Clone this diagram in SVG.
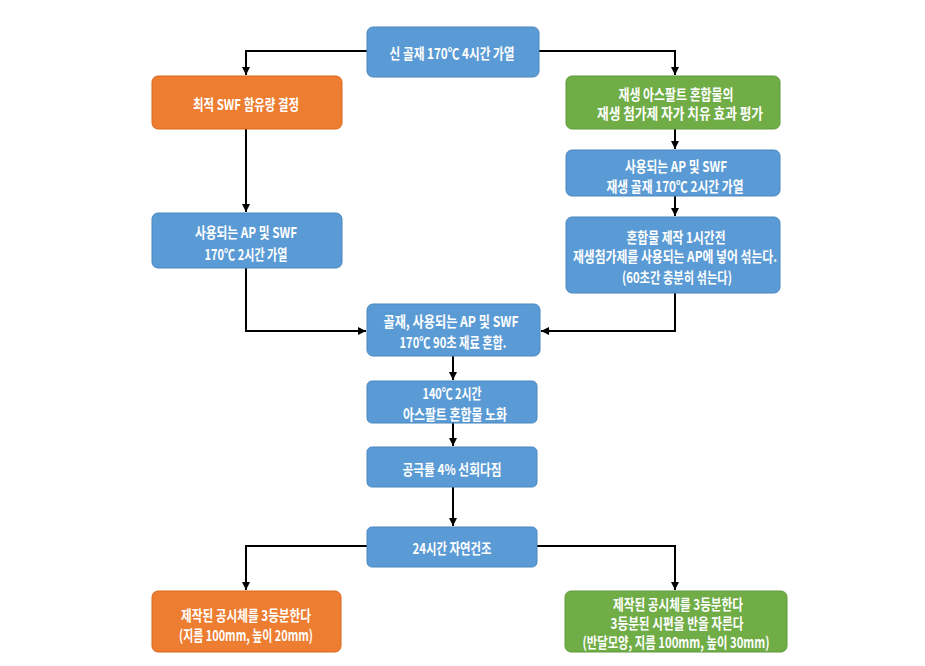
<svg xmlns="http://www.w3.org/2000/svg" width="925" height="666" viewBox="0 0 925 666">
<style>
.b{fill:#5B9BD5;stroke:#4A86BE;stroke-width:1}
.o{fill:#ED7D31;stroke:#D9691E;stroke-width:1}
.g{fill:#70AD47;stroke:#5F9A3A;stroke-width:1}
text{font-family:"Noto Sans CJK KR","Noto Sans",sans-serif;font-weight:bold;font-size:15px;fill:#FFFFFF;text-anchor:middle;dominant-baseline:central}
.c{fill:none;stroke:#000;stroke-width:2}
</style>
<defs>
<marker id="ah" viewBox="0 0 10 10" refX="10" refY="5" markerWidth="4.5" markerHeight="4" orient="auto" markerUnits="strokeWidth">
<path d="M0,0 L10,5 L0,10 z" fill="#000"/>
</marker>
</defs>
<rect width="925" height="666" fill="#FFFFFF"/>
<g id="connectors">
<path class="c" d="M367,51 H246 V75" marker-end="url(#ah)"/>
<path class="c" d="M539,51 H675 V75" marker-end="url(#ah)"/>
<path class="c" d="M246,129 V212" marker-end="url(#ah)"/>
<path class="c" d="M675,129 V149" marker-end="url(#ah)"/>
<path class="c" d="M675,196 V216" marker-end="url(#ah)"/>
<path class="c" d="M246,268 V331 H366" marker-end="url(#ah)"/>
<path class="c" d="M675,293 V331 H541" marker-end="url(#ah)"/>
<path class="c" d="M453,356 V380" marker-end="url(#ah)"/>
<path class="c" d="M453,423 V446" marker-end="url(#ah)"/>
<path class="c" d="M453,487 V526" marker-end="url(#ah)"/>
<path class="c" d="M367,546 H246 V590" marker-end="url(#ah)"/>
<path class="c" d="M537,546 H675 V590" marker-end="url(#ah)"/>
</g>
<g id="n1">
<rect class="b" x="367" y="27" width="172" height="50" rx="6"/>
<text x="452" y="52" textLength="125" lengthAdjust="spacingAndGlyphs">신 골재 170℃ 4시간 가열</text>
</g>
<g id="n2">
<rect class="o" x="152" y="76" width="190" height="53" rx="6"/>
<text x="246" y="103" textLength="106" lengthAdjust="spacingAndGlyphs">최적 SWF 함유량 결정</text>
</g>
<g id="n3">
<rect class="g" x="566" y="76" width="214" height="53" rx="6"/>
<text x="676" y="93" textLength="115" lengthAdjust="spacingAndGlyphs">재생 아스팔트 혼합물의</text>
<text x="680" y="112" textLength="166" lengthAdjust="spacingAndGlyphs">재생 첨가제 자가 치유 효과 평가</text>
</g>
<g id="n4">
<rect class="b" x="566" y="150" width="214" height="46" rx="6"/>
<text x="676" y="165" textLength="102" lengthAdjust="spacingAndGlyphs">사용되는 AP 및 SWF</text>
<text x="675" y="185" textLength="137" lengthAdjust="spacingAndGlyphs">재생 골재 170℃ 2시간 가열</text>
</g>
<g id="n5">
<rect class="b" x="566" y="217" width="214" height="76" rx="6"/>
<text x="676" y="236" textLength="99" lengthAdjust="spacingAndGlyphs">혼합물 제작 1시간전</text>
<text x="675" y="255" textLength="204" lengthAdjust="spacingAndGlyphs">재생첨가제를 사용되는 AP에 넣어 섞는다.</text>
<text x="677" y="276" textLength="110" lengthAdjust="spacingAndGlyphs">(60초간 충분히 섞는다)</text>
</g>
<g id="n6">
<rect class="b" x="152" y="213" width="190" height="55" rx="6"/>
<text x="246" y="231" textLength="102" lengthAdjust="spacingAndGlyphs">사용되는 AP 및 SWF</text>
<text x="246" y="253" textLength="83" lengthAdjust="spacingAndGlyphs">170℃ 2시간 가열</text>
</g>
<g id="n7">
<rect class="b" x="367" y="304" width="173" height="52" rx="6"/>
<text x="451" y="320" textLength="135" lengthAdjust="spacingAndGlyphs">골재, 사용되는 AP 및 SWF</text>
<text x="453" y="341" textLength="107" lengthAdjust="spacingAndGlyphs">170℃ 90초 재료 혼합.</text>
</g>
<g id="n8">
<rect class="b" x="367" y="381" width="170" height="42" rx="5"/>
<text x="452" y="392" textLength="59" lengthAdjust="spacingAndGlyphs">140℃ 2시간</text>
<text x="455" y="413" textLength="104" lengthAdjust="spacingAndGlyphs">아스팔트 혼합물 노화</text>
</g>
<g id="n9">
<rect class="b" x="367" y="447" width="170" height="40" rx="5"/>
<text x="452" y="468" textLength="99" lengthAdjust="spacingAndGlyphs">공극률 4% 선회다짐</text>
</g>
<g id="n10">
<rect class="b" x="367" y="527" width="170" height="40" rx="5"/>
<text x="452" y="547" textLength="79" lengthAdjust="spacingAndGlyphs">24시간 자연건조</text>
</g>
<g id="n11">
<rect class="o" x="152" y="591" width="189" height="61" rx="6"/>
<text x="246" y="614" textLength="130" lengthAdjust="spacingAndGlyphs">제작된 공시체를 3등분한다</text>
<text x="246" y="634" textLength="134" lengthAdjust="spacingAndGlyphs">(지름 100mm, 높이 20mm)</text>
</g>
<g id="n12">
<rect class="g" x="565" y="591" width="222" height="61" rx="6"/>
<text x="678" y="603" textLength="130" lengthAdjust="spacingAndGlyphs">제작된 공시체를 3등분한다</text>
<text x="677" y="622" textLength="133" lengthAdjust="spacingAndGlyphs">3등분된 시편을 반을 자른다</text>
<text x="676" y="641" textLength="187" lengthAdjust="spacingAndGlyphs">(반달모양, 지름 100mm, 높이 30mm)</text>
</g>
</svg>
